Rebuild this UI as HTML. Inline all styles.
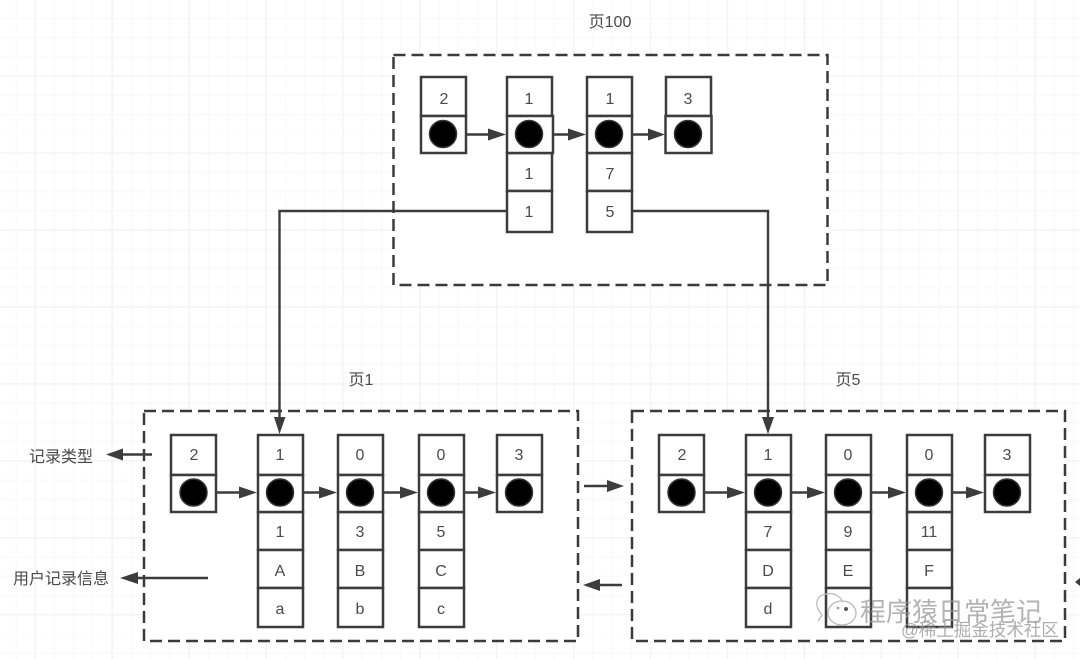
<!DOCTYPE html>
<html><head><meta charset="utf-8">
<style>
html,body{margin:0;padding:0;background:#fff;width:1080px;height:659px;overflow:hidden}
svg{display:block}
text{font-family:"Liberation Sans","Noto Sans CJK SC",sans-serif;fill:#4a4a4a;font-size:16px;text-anchor:middle}
.c{fill:#fff;stroke:#3c3c3c;stroke-width:2.5}
.d{fill:#000;stroke:#333;stroke-width:1.5}
.l{fill:none;stroke:#3c3c3c;stroke-width:2.4}
.p{fill:#fff;stroke:#3a3a3a;stroke-width:2.5;stroke-dasharray:12 6}
.a{fill:#3c3c3c}
.w1{font-size:26px;fill:#999;opacity:.75;text-anchor:start}
.w2{font-size:17.500px;fill:#999;opacity:.8;text-anchor:start}
</style></head><body>
<svg width="1080" height="659" viewBox="0 0 1080 659" xmlns="http://www.w3.org/2000/svg">
<defs>
<pattern id="m" x="-41" y="0" width="19.23" height="19.23" patternUnits="userSpaceOnUse"><path d="M18.63 0V19.23M0 18.63H19.23" fill="none" stroke="#f9f9f9" stroke-width="1.2"/></pattern>
<pattern id="M" x="-41" y="0" width="76.92" height="76.92" patternUnits="userSpaceOnUse"><path d="M76.3 0V76.92M0 76.3H76.92" fill="none" stroke="#f3f3f3" stroke-width="1.5"/></pattern>
</defs>
<rect width="1080" height="659" fill="#fff"/>
<rect width="1080" height="659" fill="url(#m)"/>
<rect width="1080" height="659" fill="url(#M)"/>

<text x="610" y="27">页100</text>
<text x="361" y="385">页1</text>
<text x="848" y="385">页5</text>
<text x="61" y="462">记录类型</text>
<text x="61" y="584" font-size="16.500">用户记录信息</text>

<rect class="p" x="393.500" y="55" width="434" height="230"/>
<rect class="p" x="144" y="411" width="434" height="230"/>
<rect class="p" x="632" y="411" width="433" height="230"/>

<!-- page 100 -->
<rect class="c" x="421" y="77" width="45" height="39"/><rect class="c" x="421" y="116" width="45" height="37"/><circle class="d" cx="443" cy="134" r="13.500"/><text x="444" y="104">2</text>
<rect class="c" x="507" y="77" width="45" height="39"/><rect class="c" x="507" y="153" width="45" height="38"/><rect class="c" x="507" y="191" width="45" height="41"/><rect class="c" x="507" y="116" width="46" height="37"/><circle class="d" cx="529" cy="134" r="13.500"/><text x="529" y="104">1</text><text x="529" y="179">1</text><text x="529" y="217">1</text>
<rect class="c" x="587" y="77" width="45" height="39"/><rect class="c" x="587" y="153" width="45" height="38"/><rect class="c" x="587" y="191" width="45" height="41"/><rect class="c" x="587" y="116" width="45" height="37"/><circle class="d" cx="609" cy="134" r="13.500"/><text x="610" y="104">1</text><text x="610" y="179">7</text><text x="610" y="217">5</text>
<rect class="c" x="666" y="77" width="45" height="39"/><rect class="c" x="665.500" y="116" width="46" height="37"/><circle class="d" cx="688" cy="134" r="13.500"/><text x="688" y="104">3</text>

<path class="l" d="M467 134.500H490M553 134.500H572M633 134.500H652"/>
<path class="a" d="M488 128.500L506 134.500L488 140.500ZM568 128.500L586 134.500L568 140.500ZM648 128.500L665 134.500L648 140.500Z"/>

<!-- left page -->
<rect class="c" x="171" y="435" width="45" height="40"/><rect class="c" x="171" y="475" width="45" height="37"/><circle class="d" cx="193.500" cy="492.500" r="13.500"/><text x="194" y="460">2</text>
<rect class="c" x="258" y="435" width="45" height="40"/><rect class="c" x="258" y="512" width="45" height="38"/><rect class="c" x="258" y="550" width="45" height="38"/><rect class="c" x="258" y="588" width="45" height="39"/><rect class="c" x="258" y="475" width="45" height="37"/><circle class="d" cx="280" cy="492.500" r="13.500"/><text x="280" y="460">1</text><text x="280" y="537">1</text><text x="280" y="576">A</text><text x="280" y="614">a</text>
<rect class="c" x="338" y="435" width="45" height="40"/><rect class="c" x="338" y="512" width="45" height="38"/><rect class="c" x="338" y="550" width="45" height="38"/><rect class="c" x="338" y="588" width="45" height="39"/><rect class="c" x="338" y="475" width="45" height="37"/><circle class="d" cx="360" cy="492.500" r="13.500"/><text x="360" y="460">0</text><text x="360" y="537">3</text><text x="360" y="576">B</text><text x="360" y="614">b</text>
<rect class="c" x="419" y="435" width="45" height="40"/><rect class="c" x="419" y="512" width="45" height="38"/><rect class="c" x="419" y="550" width="45" height="38"/><rect class="c" x="419" y="588" width="45" height="39"/><rect class="c" x="419" y="475" width="45" height="37"/><circle class="d" cx="441" cy="492.500" r="13.500"/><text x="441" y="460">0</text><text x="441" y="537">5</text><text x="441" y="576">C</text><text x="441" y="614">c</text>
<rect class="c" x="497" y="435" width="45" height="40"/><rect class="c" x="497" y="475" width="45" height="37"/><circle class="d" cx="519" cy="492.500" r="13.500"/><text x="519" y="460">3</text>

<path class="l" d="M217 492.500H242M304 492.500H322M384 492.500H403M465 492.500H481"/>
<path class="a" d="M239 486.500L257 492.500L239 498.500ZM319 486.500L337 492.500L319 498.500ZM400 486.500L418 492.500L400 498.500ZM478 486.500L496 492.500L478 498.500Z"/>

<!-- right page -->
<rect class="c" x="659" y="435" width="45" height="40"/><rect class="c" x="659" y="475" width="45" height="37"/><circle class="d" cx="681.500" cy="492.500" r="13.500"/><text x="682" y="460">2</text>
<rect class="c" x="746" y="435" width="45" height="40"/><rect class="c" x="746" y="512" width="45" height="38"/><rect class="c" x="746" y="550" width="45" height="38"/><rect class="c" x="746" y="588" width="45" height="39"/><rect class="c" x="746" y="475" width="45" height="37"/><circle class="d" cx="768" cy="492.500" r="13.500"/><text x="768" y="460">1</text><text x="768" y="537">7</text><text x="768" y="576">D</text><text x="768" y="614">d</text>
<rect class="c" x="826" y="435" width="45" height="40"/><rect class="c" x="826" y="512" width="45" height="38"/><rect class="c" x="826" y="550" width="45" height="38"/><rect class="c" x="826" y="588" width="45" height="39"/><rect class="c" x="826" y="475" width="45" height="37"/><circle class="d" cx="848" cy="492.500" r="13.500"/><text x="848" y="460">0</text><text x="848" y="537">9</text><text x="848" y="576">E</text>
<rect class="c" x="907" y="435" width="45" height="40"/><rect class="c" x="907" y="512" width="45" height="38"/><rect class="c" x="907" y="550" width="45" height="38"/><rect class="c" x="907" y="588" width="45" height="39"/><rect class="c" x="907" y="475" width="45" height="37"/><circle class="d" cx="929" cy="492.500" r="13.500"/><text x="929" y="460">0</text><text x="929" y="537">11</text><text x="929" y="576">F</text>
<rect class="c" x="985" y="435" width="45" height="40"/><rect class="c" x="985" y="475" width="45" height="37"/><circle class="d" cx="1007" cy="492.500" r="13.500"/><text x="1007" y="460">3</text>

<path class="l" d="M705 492.500H730M792 492.500H810M872 492.500H891M953 492.500H969"/>
<path class="a" d="M727 486.500L745 492.500L727 498.500ZM807 486.500L825 492.500L807 498.500ZM888 486.500L906 492.500L888 498.500ZM966 486.500L984 492.500L966 498.500Z"/>

<!-- connectors -->
<path class="l" d="M507 211H279.500V420"/>
<path class="a" d="M274 417H285.500L279.500 434Z"/>
<path class="l" d="M633 211H768V420"/>
<path class="a" d="M762 417H774L768 434Z"/>

<!-- side arrows -->
<path class="l" d="M152 454.500H120"/><path class="a" d="M106 454.500L123 448.500V460.500Z"/>
<path class="l" d="M208 578H135"/><path class="a" d="M120 578L138 572V584Z"/>
<path class="l" d="M584 486H610"/><path class="a" d="M607 480L624 486L607 492Z"/>
<path class="l" d="M622 585H595"/><path class="a" d="M583 585L600 579V591Z"/>
<path class="a" d="M1080 578V586L1075 582Z"/>

<!-- watermark -->
<rect x="826" y="589" width="26" height="37" fill="#fff" opacity="0"/>
<g fill="none" stroke="#bbb" stroke-width="1.3">
<path d="M818 621L822 615C814 606 815 596 826 594C835 592 841 597 843 603"/>
<ellipse cx="842" cy="613" rx="14" ry="12" fill="#fff" fill-opacity=".6"/>
</g>
<circle cx="838" cy="608" r="1.500" fill="#aaa"/><circle cx="846" cy="609" r="2" fill="#555"/>
<text class="w1" x="860" y="621">程序猿日常笔记</text>
<text class="w2" x="901" y="636">@稀土掘金技术社区</text>
</svg>
</body></html>
